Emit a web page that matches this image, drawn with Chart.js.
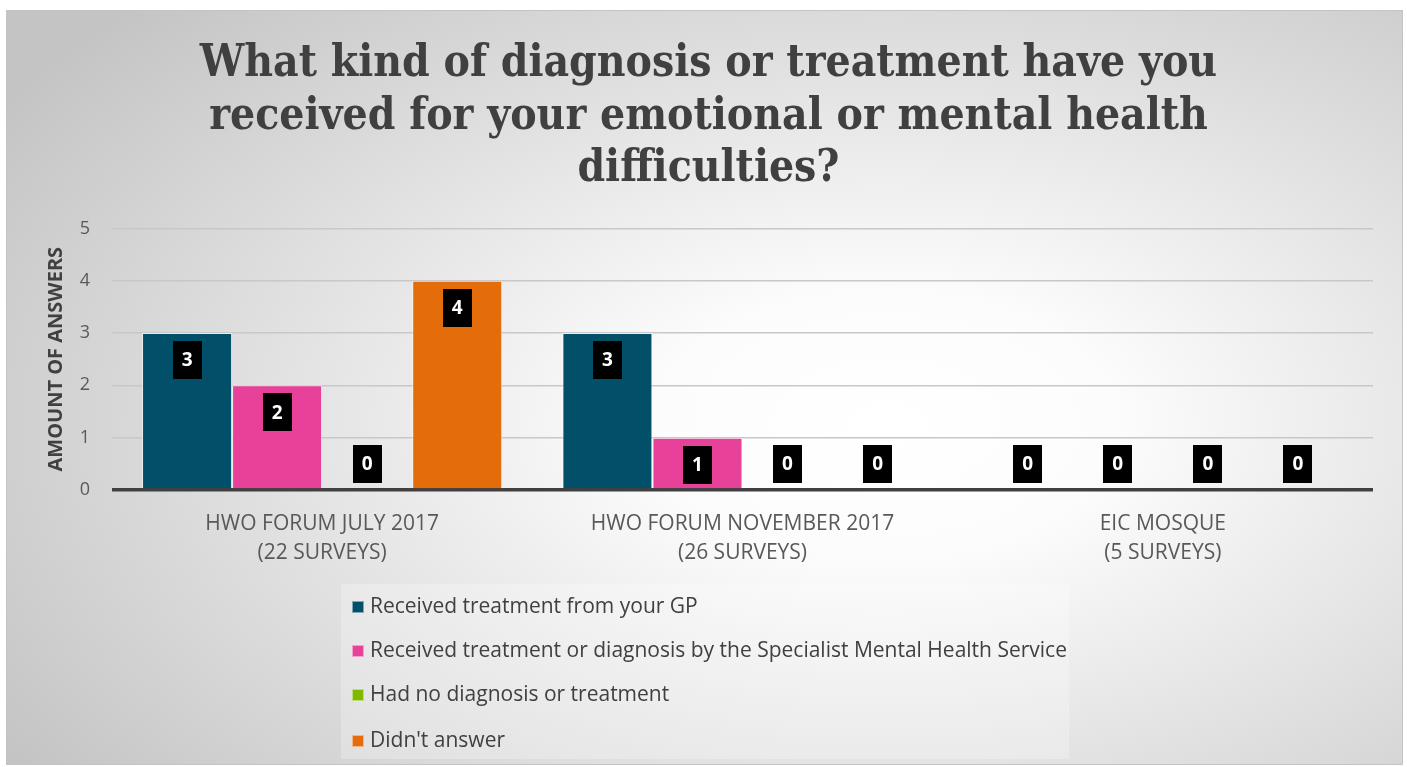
<!DOCTYPE html>
<html>
<head>
<meta charset="utf-8">
<script src="https://cdn.jsdelivr.net/npm/chart.js@4.4.1/dist/chart.umd.min.js"></script>
<style>
  html, body { margin: 0; padding: 0; background: #ffffff; }
  #frame {
    position: absolute; left: 6px; top: 10px; width: 1397px; height: 755px;
    box-sizing: border-box; border: 1px solid #c4c4c4;
    background: radial-gradient(ellipse 75% 80% at 63% 55%, #ffffff 0%, #fcfcfc 22%, #c4c4c4 100%);
    overflow: hidden;
  }
  #chartWrap { position: absolute; left: 0; top: 0; width: 1395px; height: 580px; }
  #legend {
    position: absolute; left: 334px; top: 573px; width: 728px; height: 175px;
    background: rgba(255,255,255,0.25);
    font-family: "Open Sans", sans-serif; font-size: 21px; color: #404040;
  }
  .li { position: absolute; left: 11px; height: 28px; line-height: 28px; white-space: nowrap; }
  .sw { display: inline-block; width: 12px; height: 12px; margin-right: 6px; vertical-align: 0px; box-sizing: border-box; border: 1px solid rgba(255,255,255,0.5); }
</style>
</head>
<body>
<div id="frame">
  <div id="chartWrap"><canvas id="c"></canvas></div>
  <div id="legend"></div>
</div>
<script>
const titleLines = ["What kind of diagnosis or treatment have you", "received for your emotional or mental health", "difficulties?"];
const categories = [["HWO FORUM JULY 2017", "(22 SURVEYS)"], ["HWO FORUM NOVEMBER 2017", "(26 SURVEYS)"], ["EIC MOSQUE", "(5 SURVEYS)"]];
const seriesNames = ["Received treatment from your GP", "Received treatment or diagnosis by the Specialist Mental Health Service", "Had no diagnosis or treatment", "Didn't answer"];
const seriesColors = ["#014f69", "#e8419a", "#7fba00", "#e56c0a"];
const gpValues = [3, 3, 0];
const specialistValues = [2, 1, 0];
const noDiagnosisValues = [0, 0, 0];
const noAnswerValues = [4, 0, 0];
const yTicks = [0, 1, 2, 3, 4, 5];
const yTitle = "AMOUNT OF ANSWERS";

const seriesValues = [gpValues, specialistValues, noDiagnosisValues, noAnswerValues];

const labelPlugin = {
  id: 'boxLabels',
  afterDatasetsDraw(chart) {
    const ctx = chart.ctx;
    ctx.save();
    ctx.font = 'bold 19px "Open Sans", sans-serif';
    ctx.textAlign = 'center';
    ctx.textBaseline = 'middle';
    chart.data.datasets.forEach((ds, i) => {
      const meta = chart.getDatasetMeta(i);
      meta.data.forEach((bar, j) => {
        const v = ds.data[j];
        const w = 29, h = 38;
        const barH = bar.base - bar.y;
        let top;
        if (barH >= 46) top = bar.y + 8; else top = bar.base - 7 - h;
        ctx.fillStyle = '#000000';
        ctx.fillRect(Math.round(bar.x - w / 2), Math.round(top), w, h);
        ctx.fillStyle = '#ffffff';
        ctx.fillText(String(v), bar.x, top + h / 2 + 1);
      });
    });
    ctx.restore();
  }
};

const chart = new Chart(document.getElementById('c'), {
  type: 'bar',
  data: {
    labels: categories,
    datasets: seriesNames.map((n, i) => ({
      label: n,
      data: seriesValues[i],
      backgroundColor: seriesColors[i],
      borderColor: 'rgba(255,255,255,0.55)',
      borderWidth: 1,
      barPercentage: 1,
      categoryPercentage: 0.857
    }))
  },
  options: {
    responsive: true,
    maintainAspectRatio: false,
    animation: false,
    layout: { padding: { left: 37, right: 29, top: 0, bottom: 0 } },
    plugins: {
      legend: { display: false },
      tooltip: { enabled: false },
      title: {
        display: true,
        text: titleLines,
        color: '#404040',
        font: { family: '"DejaVu Serif Condensed", "DejaVu Serif", serif', size: 44, weight: 'bold', lineHeight: 1.2 },
        padding: { top: 27, bottom: 32 }
      }
    },
    scales: {
      x: {
        afterFit(scale) { scale.height = 101; },
        grid: { display: false },
        border: { display: false },
        ticks: { color: '#595959', font: { family: '"Open Sans", sans-serif', size: 21, lineHeight: 1.38 }, padding: 12, maxRotation: 0 }
      },
      y: {
        min: 0, max: 5,
        afterBuildTicks(scale) { scale.ticks = yTicks.map(v => ({ value: v })); },
        afterFit(scale) { scale.width = 68; },
        grid: {
          drawTicks: false,
          color: ctx => ctx.tick && ctx.tick.value === 0 ? '#404040' : '#c8c8c8',
          lineWidth: ctx => ctx.tick && ctx.tick.value === 0 ? 3.5 : 1.5
        },
        border: { display: false },
        ticks: { color: '#595959', font: { family: '"Open Sans", sans-serif', size: 18 }, padding: 22 },
        title: { display: true, text: yTitle, color: '#404040', font: { family: '"Open Sans", sans-serif', size: 20, weight: 'bold', lineHeight: 1.2 }, padding: 0 }
      }
    }
  },
  plugins: [labelPlugin]
});

const legend = document.getElementById('legend');
const legendTops = [7, 51, 95, 141];
seriesNames.forEach((n, i) => {
  const d = document.createElement('div');
  d.className = 'li';
  d.style.top = legendTops[i] + 'px';
  const sw = document.createElement('span');
  sw.className = 'sw';
  sw.style.background = seriesColors[i];
  d.appendChild(sw);
  d.appendChild(document.createTextNode(n));
  legend.appendChild(d);
});
</script>
</body>
</html>
